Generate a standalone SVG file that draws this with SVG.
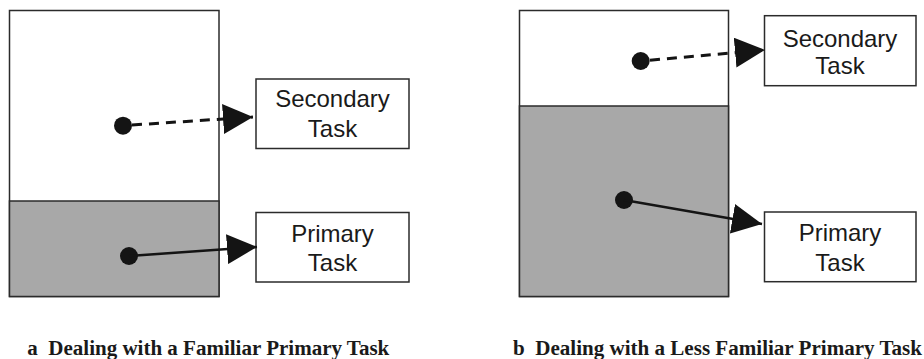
<svg xmlns="http://www.w3.org/2000/svg" width="924" height="359" viewBox="0 0 924 359">
  <style>
    .panel { fill: #ffffff; stroke: #2b2b2b; stroke-width: 1.5; }
    .shade { fill: #a8a8a8; stroke: #2b2b2b; stroke-width: 1.5; }
    .box { fill: #ffffff; stroke: #2b2b2b; stroke-width: 1.5; }
    .lbl { font-family: "Liberation Sans", Arial, sans-serif; font-size: 24px; fill: #1a1a1a; text-anchor: middle; }
    .cap { font-family: "Liberation Serif", "Times New Roman", serif; font-size: 20px; font-weight: bold; fill: #1a1a1a; }
    .dot { fill: #141414; }
    .conn { stroke: #141414; stroke-width: 2.5; fill: none; }
    .dash { stroke-dasharray: 10 7; stroke-width: 3; }
  </style>
  <defs>
    <marker id="arrow" markerUnits="userSpaceOnUse" markerWidth="30" markerHeight="30" refX="30" refY="15" orient="auto" viewBox="0 0 30 30">
      <path d="M0,0 L30,15 L0,30 Z" fill="#141414"/>
    </marker>
  </defs>

  <g id="panel-a">
    <rect class="panel" x="9.5" y="10.5" width="209.5" height="286"/>
    <rect class="shade" x="9.5" y="201" width="209.5" height="95.5"/>
  </g>
  <g id="panel-b">
    <rect class="panel" x="519.5" y="10.5" width="209" height="286"/>
    <rect class="shade" x="519.5" y="106" width="209" height="190.5"/>
  </g>

  <g id="a-secondary">
    <rect class="box" x="256" y="79" width="153" height="69.5"/>
    <text class="lbl" x="332.5" y="107.3">Secondary</text>
    <text class="lbl" x="332.5" y="136.7">Task</text>
  </g>
  <g id="a-primary">
    <rect class="box" x="256" y="212.5" width="153" height="69.5"/>
    <text class="lbl" x="332.5" y="241.7">Primary</text>
    <text class="lbl" x="332.5" y="271">Task</text>
  </g>
  <g id="b-secondary">
    <rect class="box" x="764.5" y="15.7" width="151.5" height="70"/>
    <text class="lbl" x="840" y="46.7">Secondary</text>
    <text class="lbl" x="840" y="74">Task</text>
  </g>
  <g id="b-primary">
    <rect class="box" x="764.5" y="212" width="151.5" height="69.7"/>
    <text class="lbl" x="840" y="241.3">Primary</text>
    <text class="lbl" x="840" y="270.7">Task</text>
  </g>

  <g id="connectors">
    <circle class="dot" cx="123" cy="125.7" r="9"/>
    <line class="conn dash" x1="132" y1="125" x2="253" y2="117" marker-end="url(#arrow)"/>
    <circle class="dot" cx="129" cy="256" r="9"/>
    <line class="conn" x1="129" y1="256" x2="257" y2="247" marker-end="url(#arrow)"/>
    <circle class="dot" cx="640.7" cy="61" r="9"/>
    <line class="conn dash" x1="650" y1="60.2" x2="765" y2="50" marker-end="url(#arrow)"/>
    <circle class="dot" cx="624" cy="200" r="9"/>
    <line class="conn" x1="624" y1="200" x2="762" y2="224" marker-end="url(#arrow)"/>
  </g>

  <g id="captions">
    <text class="cap" x="27.3" y="355.3" textLength="362" lengthAdjust="spacingAndGlyphs" xml:space="preserve">a  Dealing with a Familiar Primary Task</text>
    <text class="cap" x="513" y="355.3" textLength="409" lengthAdjust="spacingAndGlyphs" xml:space="preserve">b  Dealing with a Less Familiar Primary Task</text>
  </g>
</svg>
